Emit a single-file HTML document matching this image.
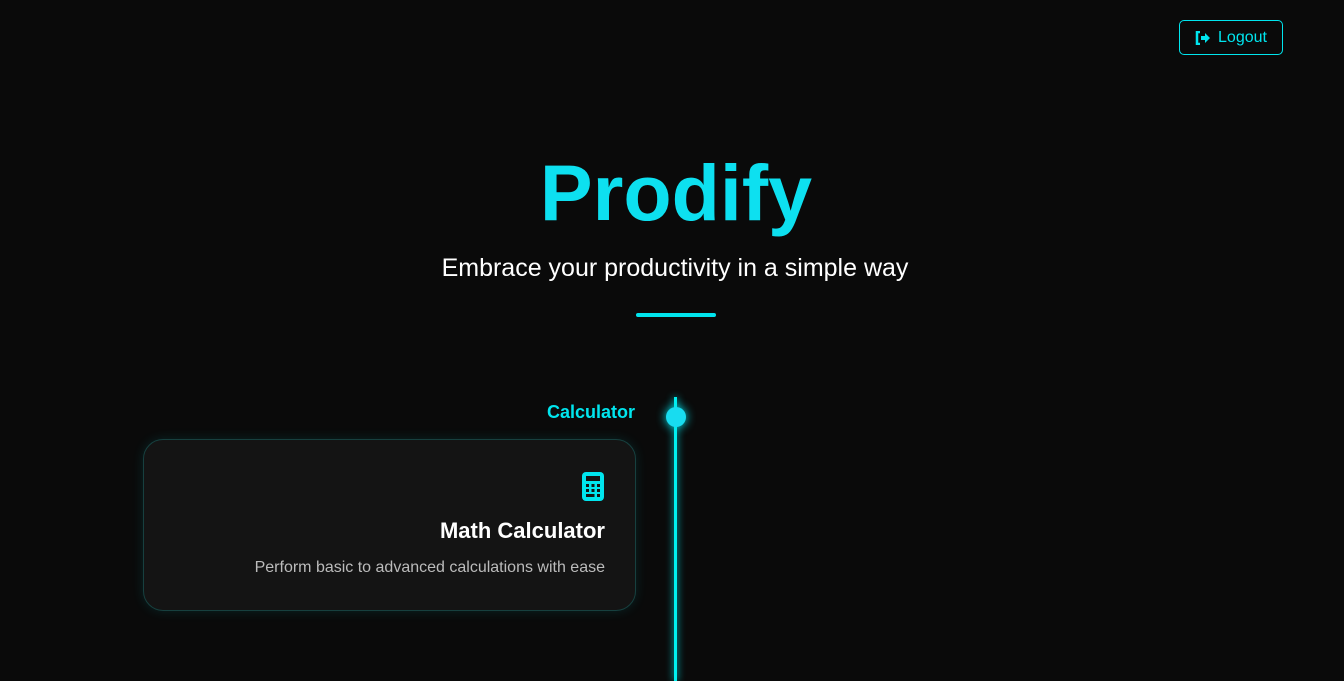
<!DOCTYPE html>
<html><head><style>
*{margin:0;padding:0;box-sizing:border-box}
body{width:1344px;height:681px;background:#0a0a0a;font-family:"Liberation Sans",sans-serif;position:relative;overflow:hidden}
.logout{position:absolute;left:1179px;top:20px;width:104px;height:35px;border:1px solid #00e5ee;border-radius:5px;color:#00e5ee;font-size:16px;display:flex;align-items:center;justify-content:center;gap:7px}
h1{position:absolute;left:0;width:1352px;top:143px;text-align:center;font-size:79px;font-weight:bold;color:#0de0f0;line-height:100px}
.sub{position:absolute;left:0;width:1350px;top:254px;text-align:center;font-size:25px;color:#fff}
.bar{position:absolute;left:636px;top:313px;width:80px;height:4px;background:#00e5ee;border-radius:2px}
.line{position:absolute;left:674px;top:397px;width:3px;height:284px;background:#00f0f0;box-shadow:0 0 8px #00e5ee}
.dot{position:absolute;left:666px;top:407px;width:20px;height:20px;border-radius:50%;background:#18dcf0;box-shadow:0 0 10px #00e5ee}
.lbl{position:absolute;right:709px;top:402px;font-size:18px;font-weight:bold;color:#00e5ee}
.card{position:absolute;left:143px;top:439px;width:493px;height:172px;background:#141414;border:1px solid #17403f;border-radius:20px;box-shadow:0 0 12px rgba(0,229,238,.12);text-align:right;padding-right:30px}
.card h2{position:absolute;right:30px;top:78px;font-size:22px;color:#fff}
.card p{position:absolute;right:30px;top:119px;font-size:16px;color:#bbb}
</style></head><body>
<div class="logout"><svg width="16" height="14" viewBox="0 0 16 14"><path d="M5 1H2v12h3" stroke="#00e5ee" stroke-width="2.5" fill="none"/><path d="M6 5h4V2l5 5-5 5V9H6z" fill="#00e5ee"/></svg>Logout</div>
<h1>Prodify</h1>
<div class="sub">Embrace your productivity in a simple way</div>
<div class="bar"></div>
<div class="line"></div>
<div class="dot"></div>
<div class="lbl">Calculator</div>
<div class="card">
<svg style="position:absolute;right:30px;top:31px" width="24" height="31" viewBox="0 0 24 31"><rect x="1" y="1" width="22" height="29" rx="4" fill="#00e5ee"/><rect x="5" y="5" width="14" height="5" fill="#141414"/><g fill="#141414"><rect x="5" y="13" width="3" height="3"/><rect x="10.5" y="13" width="3" height="3"/><rect x="16" y="13" width="3" height="3"/><rect x="5" y="18" width="3" height="3"/><rect x="10.5" y="18" width="3" height="3"/><rect x="16" y="18" width="3" height="3"/><rect x="5" y="23" width="8.5" height="3"/><rect x="16" y="23" width="3" height="3"/></g></svg>
<h2>Math Calculator</h2>
<p>Perform basic to advanced calculations with ease</p>
</div>
</body></html>
